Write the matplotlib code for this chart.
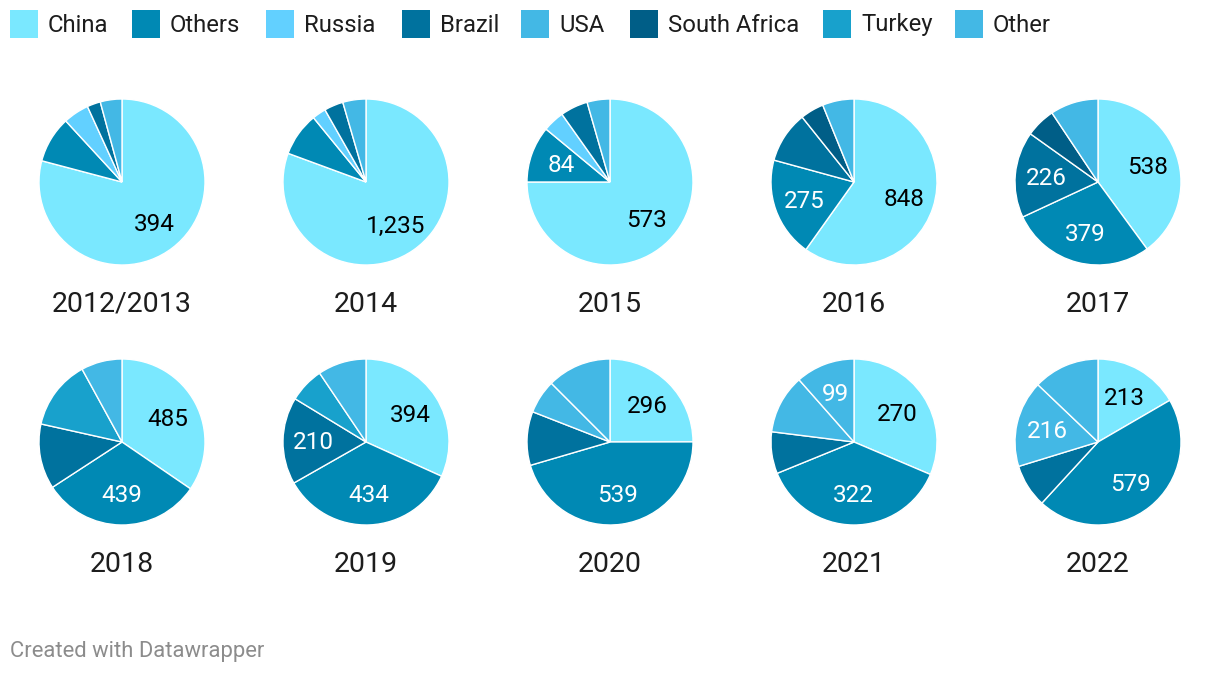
import numpy as np
import matplotlib
matplotlib.use("Agg")
import matplotlib.pyplot as plt
from matplotlib.patches import Rectangle

plt.rcParams["font.family"] = ["Roboto", "DejaVu Sans"]

#values, one list per series, one entry per year
years = ["2012/2013", "2014", "2015", "2016", "2017",
         "2018", "2019", "2020", "2021", "2022"]
china = [394, 1235, 573, 848, 538, 485, 394, 296, 270, 213]
others = [45, 130, 84, 275, 379, 439, 434, 539, 322, 579]
russia = [25, 41, 32, 0, 0, 0, 0, 0, 0, 0]
brazil = [13, 57, 41, 142, 226, 178, 210, 124, 70, 108]
usa = [21, 69, 34, 0, 0, 0, 0, 78, 99, 216]
south_africa = [0, 0, 0, 65, 78, 0, 0, 0, 0, 0]
turkey = [0, 0, 0, 0, 0, 190, 85, 0, 0, 0]
other = [0, 0, 0, 87, 126, 112, 117, 148, 99, 165]

series_names = ["China", "Others", "Russia", "Brazil", "USA",
                "South Africa", "Turkey", "Other"]
series_vals = [china, others, russia, brazil, usa, south_africa, turkey, other]
colors = ["#7ae8ff", "#0089b4", "#62d0ff", "#00729e", "#43b8e5",
          "#005e87", "#18a1cc", "#43b8e5"]

#which slices carry a value label in each pie
labeled = {
    "2012/2013": ["China"], "2014": ["China"], "2015": ["China", "Others"],
    "2016": ["China", "Others"], "2017": ["China", "Others", "Brazil"],
    "2018": ["China", "Others"], "2019": ["China", "Others", "Brazil"],
    "2020": ["China", "Others"], "2021": ["China", "Others", "Other"],
    "2022": ["China", "Others", "USA"],
}

W, H = 1220, 674
fig = plt.figure(figsize=(W / 100, H / 100), dpi=100)
ax = fig.add_axes([0, 0, 1, 1])

R = 83
col_x = [122, 366, 610, 854, 1098]
row_y = [182, 442]

for k, year in enumerate(years):
    cx = col_x[k % 5]
    cy = row_y[k // 5]
    vals, cols, names = [], [], []
    for name, v, c in zip(series_names, series_vals, colors):
        if v[k] > 0:
            vals.append(v[k]); cols.append(c); names.append(name)
    #y axis is flipped: 270 deg is 12 o'clock, increasing angle runs clockwise on screen
    ax.pie(vals, colors=cols, center=(cx, cy), radius=R,
           startangle=270, counterclock=True, normalize=True,
           wedgeprops=dict(edgecolor="white", linewidth=1.0),
           frame=True)
    total = float(sum(vals))
    start = 0.0
    for name, v in zip(names, vals):
        frac = v / total
        if name in labeled[year]:
            mid = (start + frac / 2) * 2 * np.pi   # clockwise from 12 o'clock
            lx = cx + 0.63 * R * np.sin(mid)
            ly = cy - 0.63 * R * np.cos(mid) + 1.5
            ax.text(lx, ly, f"{v:,}", ha="center", va="center", fontsize=17.5,
                    color="black" if name == "China" else "white")
        start += frac
    ax.text(cx, cy + 122, year, ha="center", va="center", fontsize=20.5,
            color="#1d1d1d")

ax.set_xlim(0, W)
ax.set_ylim(H, 0)
ax.set_aspect("equal")
ax.axis("off")

#legend row
leg_x = [10, 132, 266, 402, 521, 630, 823, 955]
for x, name, c in zip(leg_x, series_names, colors):
    ax.add_patch(Rectangle((x, 10), 28, 28, facecolor=c, edgecolor="none"))
    ax.text(x + 38, 25, name, ha="left", va="center", fontsize=17.2,
            color="#1d1d1d")

ax.text(10, 651, "Created with Datawrapper", ha="left", va="center",
        fontsize=15.8, color="#8c8c8c")

fig.savefig("out.png", dpi=100)
